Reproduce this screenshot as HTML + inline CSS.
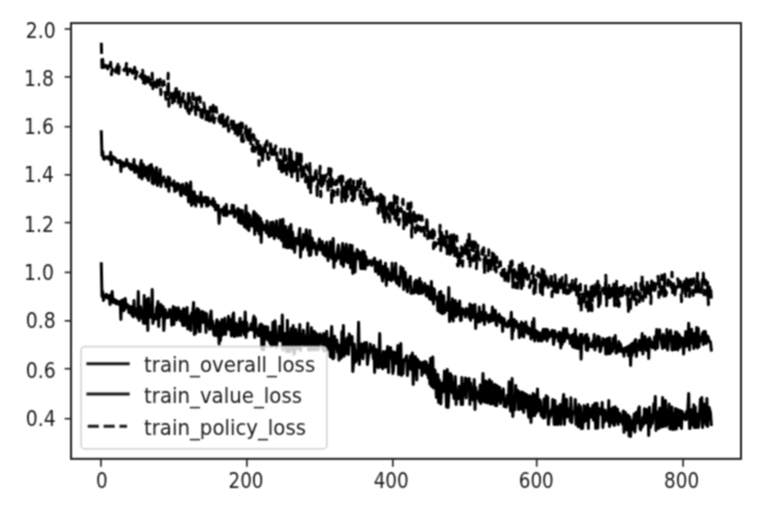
<!DOCTYPE html>
<html lang="en"><head><meta charset="utf-8"><title>train loss</title>
<style>html,body{margin:0;padding:0;background:#fff}svg{display:block}</style></head>
<body>
<svg width="781" height="512" viewBox="0 0 781 512">
<defs><filter id="b" x="0" y="0" width="781" height="512" filterUnits="userSpaceOnUse" color-interpolation-filters="sRGB"><feConvolveMatrix order="3" kernelMatrix="1 2 1 2 4 2 1 2 1" divisor="16" edgeMode="none" preserveAlpha="false"/></filter><clipPath id="c"><rect x="71.05" y="23.1" width="669.95" height="435.75"/></clipPath></defs>
<rect width="781" height="512" fill="#fff"/>
<g filter="url(#b)">
<g clip-path="url(#c)" fill="none" stroke="#000" stroke-width="3.0" stroke-linejoin="round">
<path d="M101.3 263.8L102.0 296.5L102.7 291.5L103.5 300.5L104.2 297.1L104.9 295.4L105.6 295.0L106.4 294.3L107.1 298.1L107.8 296.1L108.5 295.7L109.3 295.5L110.0 304.5L110.7 296.5L111.4 295.3L112.2 291.5L112.9 302.5L113.6 300.4L114.4 299.3L115.1 301.0L115.8 303.7L116.5 300.5L117.3 301.7L118.0 304.2L118.7 301.7L119.4 303.2L120.2 301.5L120.9 319.5L121.6 300.5L122.4 301.6L123.1 299.7L123.8 310.7L124.5 309.1L125.3 298.5L126.0 308.0L126.7 304.1L127.4 306.9L128.2 305.2L128.9 312.7L129.6 312.3L130.4 307.1L131.1 306.5L131.8 315.2L132.5 314.0L133.3 316.9L134.0 300.5L134.7 315.2L135.4 313.0L136.2 309.1L136.9 315.4L137.6 317.7L138.3 291.5L139.1 320.5L139.8 309.9L140.5 306.6L141.3 318.0L142.0 309.9L142.7 313.5L143.4 323.2L144.2 295.5L144.9 323.5L145.6 313.5L146.3 308.7L147.1 299.5L147.8 330.5L148.5 298.2L149.3 316.4L150.0 314.2L150.7 317.3L151.4 317.0L152.2 289.5L152.9 323.5L153.6 320.0L154.3 314.9L155.1 314.9L155.8 318.9L156.5 307.5L157.3 307.0L158.0 301.5L158.7 326.5L159.4 307.2L160.2 317.1L160.9 304.4L161.6 314.3L162.3 315.0L163.1 306.5L163.8 330.5L164.5 318.4L165.3 309.4L166.0 317.9L166.7 316.5L167.4 313.0L168.2 317.5L168.9 315.3L169.6 309.5L170.3 315.5L171.1 310.9L171.8 325.2L172.5 313.2L173.2 306.5L174.0 324.5L174.7 312.8L175.4 307.8L176.2 318.8L176.9 320.0L177.6 317.6L178.3 307.8L179.1 311.8L179.8 310.8L180.5 320.8L181.2 311.5L182.0 318.9L182.7 325.4L183.4 308.8L184.2 308.9L184.9 325.5L185.6 317.1L186.3 319.3L187.1 307.5L187.8 329.1L188.5 316.0L189.2 323.2L190.0 323.9L190.7 330.4L191.4 313.6L192.2 316.5L192.9 311.3L193.6 302.5L194.3 334.5L195.1 311.2L195.8 333.3L196.5 315.0L197.2 308.6L198.0 327.7L198.7 309.5L199.4 331.5L200.1 331.7L200.9 312.1L201.6 322.4L202.3 311.4L203.1 311.9L203.8 322.4L204.5 313.2L205.2 313.0L206.0 332.5L206.7 314.0L207.4 323.8L208.1 325.1L208.9 320.8L209.6 329.4L210.3 317.3L211.1 311.0L211.8 328.5L212.5 321.0L213.2 329.7L214.0 335.0L214.7 335.4L215.4 328.5L216.1 324.0L216.9 319.8L217.6 336.1L218.3 321.5L219.1 343.9L219.8 324.2L220.5 340.5L221.2 323.5L222.0 319.6L222.7 334.9L223.4 326.1L224.1 323.4L224.9 318.2L225.6 334.5L226.3 328.1L227.0 327.1L227.8 329.0L228.5 316.3L229.2 329.1L230.0 329.8L230.7 319.5L231.4 336.0L232.1 325.1L232.9 315.2L233.6 313.0L234.3 336.5L235.0 336.3L235.8 323.2L236.5 328.1L237.2 325.5L238.0 335.8L238.7 325.0L239.4 322.1L240.1 318.2L240.9 335.5L241.6 322.2L242.3 331.6L243.0 330.5L243.8 321.6L244.5 334.7L245.2 312.0L246.0 337.5L246.7 322.4L247.4 329.2L248.1 331.0L248.9 329.0L249.6 329.3L250.3 329.4L251.0 324.1L251.8 329.9L252.5 329.9L253.2 319.5L254.0 316.1L254.7 337.5L255.4 318.5L256.1 332.8L256.9 328.4L257.6 330.9L258.3 335.7L259.0 332.3L259.8 325.1L260.5 336.2L261.2 324.1L261.9 349.1L262.7 325.5L263.4 350.0L264.1 342.4L264.9 331.0L265.6 326.6L266.3 339.0L267.0 331.1L267.8 327.0L268.5 340.4L269.2 334.8L269.9 343.3L270.7 332.6L271.4 346.2L272.1 345.9L272.9 322.5L273.6 345.5L274.3 322.2L275.0 320.8L275.8 330.8L276.5 347.2L277.2 340.9L277.9 337.9L278.7 339.7L279.4 326.3L280.1 340.8L280.9 328.2L281.6 341.0L282.3 315.1L283.0 350.0L283.8 334.7L284.5 333.4L285.2 333.6L285.9 343.3L286.7 351.7L287.4 320.2L288.1 346.4L288.8 332.4L289.6 351.7L290.3 345.1L291.0 328.6L291.8 339.2L292.5 349.7L293.2 325.5L293.9 354.1L294.7 352.2L295.4 329.7L296.1 329.6L296.8 341.2L297.6 348.7L298.3 344.1L299.0 339.5L299.8 324.5L300.5 350.5L301.2 342.5L301.9 341.7L302.7 337.9L303.4 330.2L304.1 345.3L304.8 340.7L305.6 345.4L306.3 336.9L307.0 334.2L307.8 323.3L308.5 350.0L309.2 344.9L309.9 344.8L310.7 350.0L311.4 327.7L312.1 336.8L312.8 337.0L313.6 350.0L314.3 331.2L315.0 349.7L315.7 333.0L316.5 333.9L317.2 334.5L317.9 350.0L318.7 346.2L319.4 344.8L320.1 334.1L320.8 335.7L321.6 342.0L322.3 338.2L323.0 349.5L323.7 333.5L324.5 351.1L325.2 337.8L325.9 342.3L326.7 331.2L327.4 349.4L328.1 343.1L328.8 349.3L329.6 338.5L330.3 356.7L331.0 337.7L331.7 326.5L332.5 358.2L333.2 358.6L333.9 357.6L334.7 336.3L335.4 348.5L336.1 340.0L336.8 339.9L337.6 352.5L338.3 344.5L339.0 360.3L339.7 345.6L340.5 357.9L341.2 358.1L341.9 331.7L342.7 343.7L343.4 325.5L344.1 356.2L344.8 349.0L345.6 353.8L346.3 346.2L347.0 337.9L347.7 345.6L348.5 354.4L349.2 333.9L349.9 337.3L350.6 338.3L351.4 345.0L352.1 336.5L352.8 371.5L353.6 362.7L354.3 344.0L355.0 357.8L355.7 362.0L356.5 359.8L357.2 351.0L357.9 349.0L358.6 322.3L359.4 364.5L360.1 349.9L360.8 347.4L361.6 343.9L362.3 356.2L363.0 358.8L363.7 343.9L364.5 342.9L365.2 351.9L365.9 351.1L366.6 342.5L367.4 364.5L368.1 359.3L368.8 352.7L369.6 353.1L370.3 343.9L371.0 350.8L371.7 350.6L372.5 348.4L373.2 358.3L373.9 345.5L374.6 372.5L375.4 355.4L376.1 349.2L376.8 361.1L377.5 366.4L378.3 367.8L379.0 354.6L379.7 333.5L380.5 366.5L381.2 354.2L381.9 367.1L382.6 368.8L383.4 351.5L384.1 365.7L384.8 355.6L385.5 367.3L386.3 351.0L387.0 356.0L387.7 346.5L388.5 372.5L389.2 356.3L389.9 357.8L390.6 347.4L391.4 358.4L392.1 351.5L392.8 373.5L393.5 369.4L394.3 352.0L395.0 355.9L395.7 363.4L396.5 353.6L397.2 355.1L397.9 345.5L398.6 374.5L399.4 366.6L400.1 370.2L400.8 343.5L401.5 375.5L402.3 365.6L403.0 373.8L403.7 360.0L404.4 360.8L405.2 358.4L405.9 358.6L406.6 355.8L407.4 375.6L408.1 368.3L408.8 360.9L409.5 364.0L410.3 356.1L411.0 369.5L411.7 361.4L412.4 353.0L413.2 384.5L413.9 363.7L414.6 363.3L415.4 356.5L416.1 363.8L416.8 379.9L417.5 359.2L418.3 361.7L419.0 367.5L419.7 361.9L420.4 362.8L421.2 363.5L421.9 375.5L422.6 362.6L423.4 364.1L424.1 372.6L424.8 361.5L425.5 362.6L426.3 362.0L427.0 374.4L427.7 364.8L428.4 377.9L429.2 365.8L429.9 384.1L430.6 358.4L431.4 386.3L432.1 361.6L432.8 357.1L433.5 388.0L434.3 374.6L435.0 370.0L435.7 379.5L436.4 397.4L437.2 389.9L437.9 374.5L438.6 402.5L439.3 380.0L440.1 392.3L440.8 404.0L441.5 391.0L442.3 383.1L443.0 391.9L443.7 391.5L444.4 371.1L445.2 385.2L445.9 389.7L446.6 407.1L447.3 369.5L448.1 407.5L448.8 396.3L449.5 390.7L450.3 373.6L451.0 387.5L451.7 375.4L452.4 392.9L453.2 383.8L453.9 398.5L454.6 388.6L455.3 376.5L456.1 404.5L456.8 390.5L457.5 393.3L458.3 398.6L459.0 386.2L459.7 386.4L460.4 392.7L461.2 404.5L461.9 377.5L462.6 404.5L463.3 385.5L464.1 384.2L464.8 395.0L465.5 378.0L466.2 398.0L467.0 379.2L467.7 389.6L468.4 388.5L469.2 378.5L469.9 404.5L470.6 383.0L471.3 396.4L472.1 390.2L472.8 400.0L473.5 394.9L474.2 379.5L475.0 409.5L475.7 387.6L476.4 398.4L477.2 396.1L477.9 392.2L478.6 393.6L479.3 401.4L480.1 385.0L480.8 403.5L481.5 392.4L482.2 397.1L483.0 373.5L483.7 401.5L484.4 401.6L485.2 402.2L485.9 381.0L486.6 381.9L487.3 403.0L488.1 387.4L488.8 393.7L489.5 379.7L490.2 404.0L491.0 393.6L491.7 381.7L492.4 404.0L493.1 390.6L493.9 388.4L494.6 384.5L495.3 405.5L496.1 385.3L496.8 405.8L497.5 386.0L498.2 401.0L499.0 387.9L499.7 387.3L500.4 403.5L501.1 398.6L501.9 399.2L502.6 391.3L503.3 388.9L504.1 406.5L504.8 400.3L505.5 400.8L506.2 407.0L507.0 395.4L507.7 401.1L508.4 403.8L509.1 381.8L509.9 404.3L510.6 411.1L511.3 403.5L512.1 378.5L512.8 416.5L513.5 403.5L514.2 406.2L515.0 409.8L515.7 385.4L516.4 397.6L517.1 393.9L517.9 390.4L518.6 409.7L519.3 391.8L520.1 402.8L520.8 405.1L521.5 409.3L522.2 392.0L523.0 393.0L523.7 412.5L524.4 393.6L525.1 393.9L525.9 407.3L526.6 394.5L527.3 407.6L528.0 410.5L528.8 417.3L529.5 395.7L530.2 396.1L531.0 422.5L531.7 406.5L532.4 405.8L533.1 393.5L533.9 415.6L534.6 415.7L535.3 394.8L536.0 413.3L536.8 410.1L537.5 388.9L538.2 410.5L539.0 410.9L539.7 399.7L540.4 401.5L541.1 415.2L541.9 416.2L542.6 410.1L543.3 418.1L544.0 399.0L544.8 417.6L545.5 404.6L546.2 395.7L547.0 404.5L547.7 397.1L548.4 424.5L549.1 417.5L549.9 417.1L550.6 415.4L551.3 409.8L552.0 413.2L552.8 399.4L553.5 411.8L554.2 424.5L554.9 400.5L555.7 424.5L556.4 412.1L557.1 406.5L557.9 424.5L558.6 407.7L559.3 410.3L560.0 404.5L560.8 424.5L561.5 412.4L562.2 414.6L562.9 401.3L563.7 394.5L564.4 424.5L565.1 412.6L565.9 409.6L566.6 399.3L567.3 416.9L568.0 412.0L568.8 408.9L569.5 410.2L570.2 421.3L570.9 397.7L571.7 422.7L572.4 413.1L573.1 414.1L573.9 411.5L574.6 412.3L575.3 399.5L576.0 424.5L576.8 420.9L577.5 407.3L578.2 426.8L578.9 404.5L579.7 422.3L580.4 406.5L581.1 428.5L581.9 413.9L582.6 428.5L583.3 419.7L584.0 405.6L584.8 421.4L585.5 407.0L586.2 420.5L586.9 414.5L587.7 404.5L588.4 428.5L589.1 407.9L589.8 408.7L590.6 417.3L591.3 414.3L592.0 413.3L592.8 405.5L593.5 420.2L594.2 408.1L594.9 403.5L595.7 428.5L596.4 403.3L597.1 403.5L597.8 428.1L598.6 410.8L599.3 408.6L600.0 409.4L600.8 413.6L601.5 414.8L602.2 402.5L602.9 427.5L603.7 414.0L604.4 421.9L605.1 409.9L605.8 419.8L606.6 415.1L607.3 412.2L608.0 421.4L608.8 400.5L609.5 426.5L610.2 419.9L610.9 409.1L611.7 422.7L612.4 412.7L613.1 407.4L613.8 425.3L614.6 425.2L615.3 406.8L616.0 421.6L616.7 419.0L617.5 408.9L618.2 424.5L618.9 416.3L619.7 413.2L620.4 421.5L621.1 419.8L621.8 415.9L622.6 424.1L623.3 411.0L624.0 432.5L624.7 412.1L625.5 412.8L626.2 428.3L626.9 429.9L627.7 414.9L628.4 415.6L629.1 435.9L629.8 417.1L630.6 436.5L631.3 420.4L632.0 429.9L632.7 429.2L633.5 421.2L634.2 413.9L634.9 432.1L635.7 421.8L636.4 412.2L637.1 413.3L637.8 422.9L638.6 408.5L639.3 406.9L640.0 428.5L640.7 429.9L641.5 422.8L642.2 427.0L642.9 417.1L643.6 424.5L644.4 408.8L645.1 415.8L645.8 422.9L646.6 409.5L647.3 411.9L648.0 410.0L648.7 435.5L649.5 407.3L650.2 427.6L650.9 425.6L651.6 414.9L652.4 423.3L653.1 414.8L653.8 403.7L654.6 410.3L655.3 396.5L656.0 430.5L656.7 411.4L657.5 423.9L658.2 415.6L658.9 428.5L659.6 408.1L660.4 426.8L661.1 417.4L661.8 426.9L662.6 397.5L663.3 426.5L664.0 419.0L664.7 425.8L665.5 400.4L666.2 426.2L666.9 413.0L667.6 423.9L668.4 416.4L669.1 404.0L669.8 428.8L670.6 429.0L671.3 416.4L672.0 406.9L672.7 429.5L673.5 429.3L674.2 413.2L674.9 429.2L675.6 408.6L676.4 429.0L677.1 418.8L677.8 409.6L678.5 415.4L679.3 425.7L680.0 410.5L680.7 411.0L681.5 428.5L682.2 411.5L682.9 417.8L683.6 413.9L684.4 419.0L685.1 417.8L685.8 419.8L686.5 411.4L687.3 418.8L688.0 406.2L688.7 393.5L689.5 428.5L690.2 428.3L690.9 409.4L691.6 419.9L692.4 410.0L693.1 425.2L693.8 404.7L694.5 427.6L695.3 406.9L696.0 427.5L696.7 420.2L697.5 414.0L698.2 427.5L698.9 424.8L699.6 412.8L700.4 399.3L701.1 418.5L701.8 397.5L702.5 427.5L703.3 418.6L704.0 403.9L704.7 421.8L705.4 409.5L706.2 424.9L706.9 398.5L707.6 426.5L708.4 411.8L709.1 407.6L709.8 410.4L710.5 413.0L711.3 424.5" stroke-linecap="square"/>
<path d="M101.3 131.8L102.0 155.5L102.7 151.5L103.5 158.5L104.2 159.4L104.9 157.1L105.6 157.6L106.4 158.1L107.1 156.7L107.8 156.8L108.5 159.0L109.3 157.2L110.0 159.9L110.7 152.3L111.4 164.5L112.2 158.8L112.9 156.7L113.6 158.2L114.4 159.1L115.1 157.8L115.8 161.0L116.5 160.6L117.3 162.4L118.0 160.6L118.7 161.9L119.4 162.8L120.2 160.5L120.9 171.5L121.6 164.0L122.4 162.2L123.1 166.0L123.8 162.9L124.5 166.4L125.3 164.0L126.0 164.5L126.7 159.5L127.4 165.5L128.2 163.5L128.9 165.9L129.6 168.1L130.4 164.0L131.1 169.6L131.8 168.5L132.5 165.1L133.3 169.2L134.0 159.5L134.7 172.5L135.4 171.1L136.2 166.0L136.9 166.3L137.6 172.4L138.3 169.2L139.1 177.2L139.8 169.8L140.5 164.1L141.3 160.5L142.0 179.0L142.7 170.2L143.4 164.5L144.2 176.0L144.9 174.4L145.6 168.8L146.3 167.1L147.1 178.1L147.8 169.2L148.5 180.5L149.3 165.8L150.0 172.6L150.7 170.3L151.4 164.5L152.2 183.1L152.9 168.3L153.6 183.9L154.3 182.6L155.1 170.8L155.8 181.2L156.5 167.5L157.3 185.4L158.0 181.9L158.7 174.7L159.4 176.2L160.2 169.5L160.9 186.5L161.6 180.6L162.3 182.0L163.1 178.2L163.8 176.9L164.5 180.8L165.3 180.0L166.0 186.7L166.7 183.0L167.4 184.8L168.2 176.9L168.9 191.3L169.6 178.0L170.3 184.3L171.1 183.5L171.8 183.4L172.5 185.5L173.2 184.7L174.0 181.0L174.7 191.5L175.4 189.9L176.2 184.3L176.9 190.3L177.6 183.5L178.3 184.0L179.1 187.8L179.8 185.1L180.5 194.5L181.2 195.8L182.0 188.1L182.7 184.3L183.4 192.9L184.2 187.9L184.9 188.4L185.6 194.6L186.3 183.2L187.1 184.3L187.8 186.3L188.5 201.9L189.2 194.0L190.0 191.3L190.7 182.0L191.4 205.5L192.2 191.8L192.9 201.1L193.6 203.6L194.3 191.7L195.1 199.6L195.8 206.0L196.5 199.3L197.2 196.2L198.0 200.5L198.7 199.0L199.4 202.3L200.1 200.5L200.9 192.3L201.6 206.5L202.3 197.8L203.1 200.0L203.8 201.9L204.5 197.5L205.2 201.4L206.0 197.3L206.7 206.1L207.4 206.0L208.1 197.8L208.9 204.9L209.6 201.8L210.3 202.2L211.1 201.4L211.8 203.2L212.5 205.1L213.2 198.5L214.0 206.5L214.7 201.6L215.4 210.0L216.1 205.9L216.9 205.0L217.6 209.9L218.3 205.5L219.1 223.5L219.8 212.8L220.5 209.9L221.2 211.8L222.0 209.4L222.7 209.1L223.4 215.0L224.1 207.1L224.9 215.6L225.6 212.0L226.3 204.5L227.0 215.5L227.8 211.1L228.5 211.7L229.2 211.6L230.0 213.2L230.7 213.3L231.4 213.1L232.1 205.3L232.9 205.4L233.6 205.5L234.3 217.0L235.0 216.8L235.8 210.8L236.5 212.1L237.2 214.2L238.0 208.6L238.7 222.2L239.4 213.3L240.1 210.0L240.9 223.5L241.6 215.1L242.3 210.6L243.0 223.3L243.8 221.1L244.5 226.7L245.2 223.0L246.0 205.5L246.7 228.5L247.4 215.2L248.1 213.3L248.9 230.6L249.6 215.3L250.3 221.8L251.0 220.9L251.8 226.0L252.5 226.0L253.2 215.0L254.0 211.5L254.7 234.5L255.4 219.7L256.1 213.7L256.9 230.3L257.6 223.6L258.3 215.9L259.0 234.0L259.8 225.7L260.5 218.2L261.2 242.5L261.9 221.9L262.7 226.4L263.4 224.9L264.1 229.7L264.9 230.0L265.6 225.2L266.3 232.8L267.0 220.9L267.8 230.4L268.5 234.7L269.2 236.7L269.9 235.7L270.7 222.5L271.4 235.5L272.1 223.8L272.9 222.0L273.6 231.2L274.3 238.7L275.0 231.9L275.8 227.2L276.5 221.1L277.2 236.1L277.9 229.6L278.7 238.1L279.4 234.8L280.1 220.0L280.9 236.2L281.6 240.5L282.3 229.4L283.0 219.2L283.8 247.0L284.5 226.2L285.2 228.0L285.9 226.6L286.7 247.7L287.4 244.2L288.1 230.3L288.8 247.8L289.6 226.6L290.3 234.0L291.0 224.5L291.8 248.5L292.5 231.9L293.2 237.5L293.9 243.7L294.7 252.3L295.4 242.8L296.1 238.3L296.8 241.6L297.6 238.5L298.3 244.2L299.0 233.8L299.8 228.5L300.5 257.2L301.2 243.9L301.9 245.3L302.7 249.2L303.4 234.5L304.1 246.8L304.8 243.9L305.6 235.8L306.3 229.8L307.0 240.5L307.8 250.0L308.5 239.6L309.2 255.4L309.9 230.5L310.7 255.2L311.4 248.0L312.1 237.9L312.8 244.4L313.6 247.9L314.3 247.8L315.0 243.1L315.7 249.0L316.5 254.6L317.2 249.3L317.9 247.0L318.7 243.5L319.4 239.1L320.1 250.0L320.8 244.7L321.6 248.0L322.3 241.5L323.0 254.1L323.7 245.6L324.5 254.9L325.2 256.0L325.9 244.7L326.7 242.2L327.4 254.5L328.1 260.7L328.8 253.4L329.6 255.6L330.3 241.8L331.0 250.6L331.7 258.4L332.5 256.1L333.2 238.5L333.9 267.5L334.7 254.5L335.4 259.1L336.1 260.7L336.8 254.6L337.6 249.5L338.3 245.0L339.0 258.3L339.7 253.5L340.5 254.3L341.2 264.1L341.9 249.3L342.7 243.5L343.4 266.5L344.1 254.0L344.8 261.3L345.6 248.8L346.3 244.3L347.0 254.6L347.7 262.8L348.5 251.3L349.2 255.8L349.9 245.1L350.6 267.7L351.4 245.4L352.1 245.5L352.8 273.5L353.6 253.1L354.3 257.5L355.0 272.1L355.7 257.4L356.5 254.1L357.2 249.6L357.9 258.8L358.6 251.5L359.4 257.1L360.1 261.1L360.8 268.5L361.6 252.4L362.3 268.8L363.0 251.0L363.7 268.5L364.5 251.9L365.2 269.0L365.9 256.6L366.6 261.5L367.4 260.5L368.1 265.1L368.8 263.1L369.6 262.2L370.3 260.6L371.0 262.0L371.7 265.4L372.5 262.2L373.2 262.2L373.9 258.9L374.6 258.2L375.4 271.5L376.1 266.9L376.8 269.6L377.5 262.1L378.3 274.2L379.0 267.5L379.7 269.8L380.5 260.8L381.2 274.9L381.9 276.9L382.6 281.1L383.4 266.5L384.1 272.5L384.8 276.9L385.5 263.3L386.3 285.5L387.0 276.5L387.7 268.9L388.5 274.5L389.2 279.6L389.9 276.3L390.6 273.0L391.4 280.8L392.1 263.3L392.8 278.7L393.5 269.1L394.3 272.6L395.0 280.2L395.7 263.3L396.5 282.5L397.2 283.7L397.9 277.1L398.6 276.9L399.4 285.9L400.1 280.7L400.8 266.7L401.5 276.3L402.3 274.4L403.0 268.2L403.7 289.5L404.4 276.0L405.2 272.1L405.9 286.7L406.6 282.3L407.4 291.8L408.1 280.1L408.8 284.9L409.5 280.1L410.3 276.5L411.0 293.5L411.7 290.7L412.4 291.1L413.2 293.2L413.9 289.6L414.6 282.1L415.4 292.3L416.1 280.3L416.8 283.7L417.5 285.4L418.3 293.5L419.0 281.3L419.7 278.5L420.4 293.5L421.2 282.0L421.9 288.9L422.6 292.9L423.4 289.7L424.1 290.5L424.8 283.6L425.5 287.3L426.3 295.9L427.0 288.8L427.7 286.2L428.4 288.5L429.2 297.9L429.9 299.1L430.6 291.9L431.4 281.5L432.1 300.0L432.8 288.2L433.5 304.0L434.3 288.9L435.0 297.4L435.7 299.3L436.4 297.0L437.2 297.1L437.9 310.8L438.6 300.6L439.3 292.5L440.1 312.5L440.8 291.6L441.5 299.2L442.3 313.8L443.0 300.1L443.7 295.8L444.4 313.0L445.2 307.4L445.9 305.2L446.6 310.6L447.3 302.3L448.1 308.9L448.8 287.5L449.5 321.5L450.3 312.5L451.0 302.7L451.7 318.8L452.4 298.7L453.2 321.1L453.9 307.0L454.6 312.2L455.3 300.4L456.1 316.5L456.8 303.4L457.5 314.5L458.3 310.0L459.0 305.8L459.7 301.0L460.4 320.5L461.2 320.5L461.9 310.9L462.6 308.7L463.3 310.1L464.1 314.0L464.8 312.1L465.5 317.1L466.2 308.5L467.0 314.3L467.7 309.7L468.4 309.4L469.2 317.9L469.9 304.0L470.6 320.5L471.3 308.8L472.1 305.2L472.8 317.5L473.5 309.6L474.2 316.2L475.0 304.5L475.7 328.5L476.4 315.9L477.2 315.6L477.9 313.7L478.6 322.1L479.3 307.0L480.1 321.7L480.8 312.4L481.5 316.6L482.2 312.0L483.0 320.4L483.7 305.1L484.4 324.5L485.2 318.6L485.9 312.7L486.6 317.0L487.3 319.3L488.1 315.4L488.8 322.2L489.5 318.5L490.2 314.8L491.0 321.2L491.7 318.7L492.4 307.1L493.1 320.5L493.9 315.7L494.6 317.5L495.3 310.2L496.1 324.6L496.8 325.5L497.5 318.7L498.2 316.1L499.0 314.2L499.7 315.5L500.4 322.6L501.1 318.1L501.9 317.5L502.6 331.5L503.3 322.3L504.1 318.8L504.8 323.8L505.5 323.2L506.2 326.2L507.0 325.7L507.7 326.9L508.4 321.2L509.1 325.7L509.9 319.9L510.6 325.6L511.3 312.3L512.1 339.0L512.8 327.8L513.5 330.7L514.2 319.6L515.0 323.7L515.7 325.8L516.4 321.4L517.1 327.8L517.9 327.5L518.6 324.4L519.3 337.6L520.1 324.6L520.8 331.1L521.5 322.1L522.2 336.0L523.0 323.5L523.7 337.0L524.4 331.7L525.1 330.8L525.9 322.1L526.6 331.9L527.3 326.4L528.0 333.8L528.8 330.4L529.5 328.4L530.2 329.3L531.0 339.0L531.7 337.0L532.4 322.1L533.1 331.6L533.9 318.5L534.6 341.0L535.3 336.3L536.0 330.6L536.8 335.2L537.5 331.7L538.2 341.0L539.0 336.0L539.7 332.9L540.4 340.5L541.1 336.2L541.9 341.0L542.6 331.9L543.3 329.4L544.0 338.9L544.8 334.8L545.5 329.2L546.2 329.5L547.0 341.0L547.7 329.7L548.4 338.0L549.1 335.5L549.9 332.7L550.6 334.4L551.3 336.3L552.0 330.5L552.8 330.5L553.5 344.5L554.2 340.8L554.9 331.1L555.7 337.4L556.4 336.4L557.1 334.6L557.9 333.8L558.6 341.2L559.3 332.3L560.0 332.5L560.8 348.0L561.5 338.1L562.2 344.4L562.9 333.7L563.7 328.5L564.4 341.5L565.1 331.5L565.9 338.3L566.6 328.7L567.3 338.1L568.0 334.1L568.8 336.6L569.5 336.0L570.2 343.6L570.9 339.7L571.7 335.2L572.4 346.5L573.1 334.5L573.9 347.3L574.6 336.9L575.3 329.5L576.0 348.0L576.8 336.7L577.5 339.8L578.2 348.6L578.9 341.4L579.7 342.1L580.4 334.5L581.1 359.3L581.9 334.5L582.6 343.6L583.3 340.9L584.0 341.0L584.8 339.0L585.5 335.4L586.2 349.9L586.9 334.5L587.7 350.5L588.4 338.0L589.1 346.9L589.8 345.6L590.6 343.8L591.3 344.1L592.0 347.0L592.8 341.3L593.5 343.8L594.2 334.5L594.9 350.0L595.7 345.9L596.4 344.9L597.1 342.2L597.8 336.2L598.6 346.2L599.3 337.0L600.0 351.8L600.8 350.1L601.5 344.8L602.2 345.7L602.9 338.6L603.7 345.1L604.4 340.1L605.1 339.5L605.8 354.1L606.6 353.9L607.3 338.6L608.0 353.8L608.8 342.6L609.5 337.7L610.2 353.6L610.9 343.3L611.7 348.3L612.4 351.2L613.1 338.3L613.8 345.6L614.6 347.6L615.3 335.5L616.0 353.1L616.7 353.1L617.5 345.5L618.2 350.4L618.9 341.6L619.7 351.4L620.4 343.9L621.1 346.8L621.8 348.5L622.6 352.3L623.3 348.9L624.0 356.2L624.7 348.3L625.5 350.8L626.2 347.5L626.9 351.6L627.7 346.7L628.4 355.7L629.1 346.0L629.8 345.5L630.6 365.5L631.3 344.2L632.0 355.5L632.7 343.2L633.5 352.3L634.2 351.2L634.9 340.6L635.7 339.5L636.4 356.5L637.1 346.7L637.8 345.9L638.6 347.9L639.3 340.4L640.0 350.3L640.7 348.9L641.5 342.3L642.2 333.5L642.9 354.1L643.6 347.2L644.4 347.7L645.1 336.6L645.8 346.7L646.6 350.5L647.3 348.5L648.0 339.5L648.7 358.5L649.5 337.8L650.2 339.3L650.9 343.8L651.6 345.5L652.4 347.7L653.1 342.2L653.8 347.5L654.6 336.9L655.3 349.4L656.0 338.5L656.7 329.5L657.5 348.0L658.2 335.1L658.9 338.6L659.6 329.7L660.4 338.0L661.1 339.7L661.8 344.9L662.6 348.4L663.3 334.5L664.0 337.3L664.7 346.6L665.5 347.5L666.2 345.5L666.9 329.5L667.6 350.0L668.4 342.8L669.1 332.5L669.8 338.3L670.6 330.6L671.3 337.2L672.0 350.0L672.7 350.0L673.5 336.6L674.2 345.3L674.9 349.6L675.6 332.1L676.4 332.3L677.1 332.5L677.8 350.0L678.5 334.5L679.3 334.8L680.0 347.5L680.7 337.8L681.5 337.6L682.2 340.4L682.9 338.5L683.6 354.1L684.4 343.7L685.1 339.2L685.8 331.4L686.5 346.3L687.3 335.5L688.0 343.2L688.7 323.3L689.5 350.0L690.2 335.7L690.9 341.4L691.6 329.3L692.4 343.2L693.1 338.0L693.8 348.6L694.5 333.6L695.3 335.3L696.0 346.3L696.7 327.5L697.5 348.0L698.2 328.3L698.9 346.8L699.6 338.3L700.4 336.7L701.1 340.9L701.8 337.4L702.5 333.1L703.3 344.6L704.0 331.6L704.7 341.1L705.4 331.5L706.2 343.5L706.9 337.7L707.6 336.1L708.4 337.7L709.1 341.7L709.8 341.0L710.5 342.5L711.3 350.0" stroke-linecap="square"/>
<path d="M101.3 42.8L102.0 67.7L102.7 59.3L103.5 70.7L104.2 68.1L104.9 65.9L105.6 65.3L106.4 67.3L107.1 68.0L107.8 68.9L108.5 65.7L109.3 66.2L110.0 69.1L110.7 62.3L111.4 74.7L112.2 68.8L112.9 70.3L113.6 69.3L114.4 67.9L115.1 67.9L115.8 72.3L116.5 67.4L117.3 67.4L118.0 64.3L118.7 73.7L119.4 67.0L120.2 69.1L120.9 69.0L121.6 68.4L122.4 69.0L123.1 69.4L123.8 70.0L124.5 70.6L125.3 69.4L126.0 67.0L126.7 62.3L127.4 74.7L128.2 70.9L128.9 68.3L129.6 70.7L130.4 69.0L131.1 71.6L131.8 70.5L132.5 72.4L133.3 76.7L134.0 71.8L134.7 67.3L135.4 78.7L136.2 75.0L136.9 71.7L137.6 74.3L138.3 76.1L139.1 74.9L139.8 76.5L140.5 76.2L141.3 74.3L142.0 78.6L142.7 70.3L143.4 84.7L144.2 75.8L144.9 83.6L145.6 76.3L146.3 81.1L147.1 78.7L147.8 82.3L148.5 77.3L149.3 83.5L150.0 79.3L150.7 84.9L151.4 82.3L152.2 73.3L152.9 88.7L153.6 82.2L154.3 78.5L155.1 86.0L155.8 84.0L156.5 90.4L157.3 79.9L158.0 86.7L158.7 85.8L159.4 85.1L160.2 79.3L160.9 94.7L161.6 86.7L162.3 87.0L163.1 82.6L163.8 81.1L164.5 86.2L165.3 93.0L166.0 99.3L166.7 95.3L167.4 97.3L168.2 73.3L168.9 106.2L169.6 97.5L170.3 96.5L171.1 93.5L171.8 98.5L172.5 104.2L173.2 90.2L174.0 90.5L174.7 103.3L175.4 95.0L176.2 85.3L176.9 102.7L177.6 103.0L178.3 101.8L179.1 89.1L179.8 106.0L180.5 106.7L181.2 98.3L182.0 104.0L182.7 99.3L183.4 93.5L184.2 100.1L184.9 102.9L185.6 108.1L186.3 105.0L187.1 101.3L187.8 111.5L188.5 90.8L189.2 113.7L190.0 97.6L190.7 109.4L191.4 110.1L192.2 100.8L192.9 93.3L193.6 100.1L194.3 106.8L195.1 108.1L195.8 114.7L196.5 97.8L197.2 107.0L198.0 110.0L198.7 104.9L199.4 97.0L200.1 97.3L200.9 116.7L201.6 112.7L202.3 117.8L203.1 112.6L203.8 103.1L204.5 107.9L205.2 111.3L206.0 119.5L206.7 112.0L207.4 111.4L208.1 120.1L208.9 110.0L209.6 121.1L210.3 107.2L211.1 111.1L211.8 117.5L212.5 120.8L213.2 105.3L214.0 122.7L214.7 118.5L215.4 116.5L216.1 107.2L216.9 114.0L217.6 113.8L218.3 114.8L219.1 121.2L219.8 115.7L220.5 123.1L221.2 118.7L222.0 117.6L222.7 111.3L223.4 128.7L224.1 121.4L224.9 123.4L225.6 125.8L226.3 119.4L227.0 122.2L227.8 117.1L228.5 131.3L229.2 129.7L230.0 123.4L230.7 123.6L231.4 121.1L232.1 127.9L232.9 127.6L233.6 121.3L234.3 133.7L235.0 135.1L235.8 128.4L236.5 125.8L237.2 122.2L238.0 137.8L238.7 130.2L239.4 122.8L240.1 133.6L240.9 123.0L241.6 141.3L242.3 123.3L243.0 141.7L243.8 140.6L244.5 137.0L245.2 133.8L246.0 126.1L246.7 137.7L247.4 127.3L248.1 143.0L248.9 128.2L249.6 135.4L250.3 129.0L251.0 149.7L251.8 149.1L252.5 151.4L253.2 134.5L254.0 135.9L254.7 151.4L255.4 149.9L256.1 140.0L256.9 144.3L257.6 144.6L258.3 139.3L259.0 165.4L259.8 142.2L260.5 146.6L261.2 158.3L261.9 153.3L262.7 162.7L263.4 148.2L264.1 150.5L264.9 144.7L265.6 151.7L266.3 142.7L267.0 141.0L267.8 159.0L268.5 159.4L269.2 157.6L269.9 158.5L270.7 141.3L271.4 158.2L272.1 156.6L272.9 149.6L273.6 157.4L274.3 153.4L275.0 149.1L275.8 145.9L276.5 148.6L277.2 160.3L277.9 160.4L278.7 156.2L279.4 172.2L280.1 160.9L280.9 149.3L281.6 174.7L282.3 166.8L283.0 171.3L283.8 154.3L284.5 149.3L285.2 170.8L285.9 155.6L286.7 174.4L287.4 163.6L288.1 170.9L288.8 167.9L289.6 149.3L290.3 171.8L291.0 149.3L291.8 176.7L292.5 158.2L293.2 158.8L293.9 161.9L294.7 171.9L295.4 171.9L296.1 173.4L296.8 153.3L297.6 182.7L298.3 153.6L299.0 164.6L299.8 154.0L300.5 170.4L301.2 154.3L301.9 179.7L302.7 175.5L303.4 163.1L304.1 174.9L304.8 173.8L305.6 182.0L306.3 164.7L307.0 168.0L307.8 168.9L308.5 190.5L309.2 184.2L309.9 161.8L310.7 192.7L311.4 176.7L312.1 180.5L312.8 179.2L313.6 180.6L314.3 176.8L315.0 176.5L315.7 168.2L316.5 175.6L317.2 195.6L317.9 183.3L318.7 181.1L319.4 179.2L320.1 166.3L320.8 196.7L321.6 182.5L322.3 185.4L323.0 175.7L323.7 185.4L324.5 184.6L325.2 175.5L325.9 176.7L326.7 174.8L327.4 174.7L328.1 193.7L328.8 168.5L329.6 185.3L330.3 178.3L331.0 169.0L331.7 204.3L332.5 179.1L333.2 187.0L333.9 195.8L334.7 184.8L335.4 184.7L336.1 180.6L336.8 185.9L337.6 194.9L338.3 181.9L339.0 177.3L339.7 177.3L340.5 179.0L341.2 173.3L341.9 201.7L342.7 176.2L343.4 199.7L344.1 190.2L344.8 187.0L345.6 201.0L346.3 182.5L347.0 197.3L347.7 195.8L348.5 177.8L349.2 180.6L349.9 185.6L350.6 179.3L351.4 200.2L352.1 198.8L352.8 200.8L353.6 180.9L354.3 201.6L355.0 187.4L355.7 189.4L356.5 187.9L357.2 189.9L357.9 179.3L358.6 186.1L359.4 183.1L360.1 196.9L360.8 179.3L361.6 204.7L362.3 204.7L363.0 204.6L363.7 188.0L364.5 182.1L365.2 192.5L365.9 187.9L366.6 204.5L367.4 196.1L368.1 190.2L368.8 201.3L369.6 197.6L370.3 186.9L371.0 194.6L371.7 188.3L372.5 204.3L373.2 196.4L373.9 198.6L374.6 199.7L375.4 197.6L376.1 201.9L376.8 197.3L377.5 196.7L378.3 213.2L379.0 204.0L379.7 206.8L380.5 193.2L381.2 205.9L381.9 212.0L382.6 196.0L383.4 217.5L384.1 195.3L384.8 223.7L385.5 205.1L386.3 212.1L387.0 206.9L387.7 210.7L388.5 218.4L389.2 204.1L389.9 221.9L390.6 200.5L391.4 202.7L392.1 216.4L392.8 199.3L393.5 208.0L394.3 195.7L395.0 220.7L395.7 218.5L396.5 220.3L397.2 197.0L397.9 218.6L398.6 224.8L399.4 220.6L400.1 209.2L400.8 208.1L401.5 211.4L402.3 203.5L403.0 199.3L403.7 228.7L404.4 212.0L405.2 213.2L405.9 213.6L406.6 225.1L407.4 211.5L408.1 203.4L408.8 225.8L409.5 205.0L410.3 213.5L411.0 202.8L411.7 237.2L412.4 216.6L413.2 216.1L413.9 212.3L414.6 219.7L415.4 232.6L416.1 215.6L416.8 223.4L417.5 230.3L418.3 229.3L419.0 215.3L419.7 228.7L420.4 230.5L421.2 231.4L421.9 216.0L422.6 223.3L423.4 228.6L424.1 230.5L424.8 235.7L425.5 229.6L426.3 226.0L427.0 217.3L427.7 238.7L428.4 230.4L429.2 229.8L429.9 234.3L430.6 237.9L431.4 231.4L432.1 230.3L432.8 227.3L433.5 248.7L434.3 231.2L435.0 246.5L435.7 245.7L436.4 244.0L437.2 243.5L437.9 243.6L438.6 237.8L439.3 243.7L440.1 225.3L440.8 250.7L441.5 232.4L442.3 240.5L443.0 235.8L443.7 248.4L444.4 237.0L445.2 243.1L445.9 246.9L446.6 231.3L447.3 257.4L448.1 256.3L448.8 236.8L449.5 238.7L450.3 254.3L451.0 235.0L451.7 252.5L452.4 240.7L453.2 247.2L453.9 234.8L454.6 257.6L455.3 241.8L456.1 240.4L456.8 236.3L457.5 265.7L458.3 265.9L459.0 253.6L459.7 266.2L460.4 248.7L461.2 246.7L461.9 251.8L462.6 266.3L463.3 247.9L464.1 255.7L464.8 255.4L465.5 241.4L466.2 254.0L467.0 246.1L467.7 240.3L468.4 262.1L469.2 232.3L469.9 267.7L470.6 259.1L471.3 253.1L472.1 245.7L472.8 238.3L473.5 261.1L474.2 253.2L475.0 242.0L475.7 243.3L476.4 268.7L477.2 255.9L477.9 245.2L478.6 258.4L479.3 258.0L480.1 259.9L480.8 258.9L481.5 259.0L482.2 250.1L483.0 257.0L483.7 247.7L484.4 273.7L485.2 255.8L485.9 258.5L486.6 261.9L487.3 264.1L488.1 271.0L488.8 249.7L489.5 266.6L490.2 259.1L491.0 270.9L491.7 265.8L492.4 251.2L493.1 266.9L493.9 251.8L494.6 269.7L495.3 260.4L496.1 271.9L496.8 257.0L497.5 266.5L498.2 265.6L499.0 266.8L499.7 264.1L500.4 261.8L501.1 274.1L501.9 275.9L502.6 269.2L503.3 266.3L504.1 267.3L504.8 282.7L505.5 273.9L506.2 276.5L507.0 271.3L507.7 273.6L508.4 283.7L509.1 264.5L509.9 271.8L510.6 262.1L511.3 271.9L512.1 261.0L512.8 287.2L513.5 270.2L514.2 269.5L515.0 271.8L515.7 287.8L516.4 272.8L517.1 276.1L517.9 288.1L518.6 274.0L519.3 265.1L520.1 281.7L520.8 270.0L521.5 288.6L522.2 263.3L523.0 288.7L523.7 268.9L524.4 275.2L525.1 266.8L525.9 280.8L526.6 270.5L527.3 279.4L528.0 275.8L528.8 274.7L529.5 287.4L530.2 285.7L531.0 279.1L531.7 272.3L532.4 272.0L533.1 266.3L533.9 293.7L534.6 282.5L535.3 294.0L536.0 273.9L536.8 275.3L537.5 275.9L538.2 272.9L539.0 274.5L539.7 280.5L540.4 292.4L541.1 279.7L541.9 269.3L542.6 294.7L543.3 278.0L544.0 270.8L544.8 285.3L545.5 281.6L546.2 274.0L547.0 276.4L547.7 283.4L548.4 289.6L549.1 286.2L549.9 284.1L550.6 281.2L551.3 273.3L552.0 296.7L552.8 285.8L553.5 283.5L554.2 294.7L554.9 275.1L555.7 283.4L556.4 292.3L557.1 281.7L557.9 292.5L558.6 283.1L559.3 286.0L560.0 276.3L560.8 291.2L561.5 283.1L562.2 277.5L562.9 281.0L563.7 292.8L564.4 288.0L565.1 289.9L565.9 275.3L566.6 293.7L567.3 292.9L568.0 289.7L568.8 293.2L569.5 284.8L570.2 286.5L570.9 293.9L571.7 284.8L572.4 280.4L573.1 288.0L573.9 285.1L574.6 292.7L575.3 283.8L576.0 279.3L576.8 298.4L577.5 283.6L578.2 290.2L578.9 303.6L579.7 290.9L580.4 284.3L581.1 311.7L581.9 295.3L582.6 293.9L583.3 296.3L584.0 301.0L584.8 303.9L585.5 284.3L586.2 306.9L586.9 292.0L587.7 291.8L588.4 310.9L589.1 289.8L589.8 309.9L590.6 299.2L591.3 284.3L592.0 310.7L592.8 285.9L593.5 299.1L594.2 299.0L594.9 292.3L595.7 282.3L596.4 294.0L597.1 292.5L597.8 281.3L598.6 306.7L599.3 285.3L600.0 306.4L600.8 289.7L601.5 291.5L602.2 292.0L602.9 288.1L603.7 288.8L604.4 295.5L605.1 296.2L605.8 275.3L606.6 305.7L607.3 290.0L608.0 293.8L608.8 283.1L609.5 299.5L610.2 287.1L610.9 296.4L611.7 286.3L612.4 290.9L613.1 295.8L613.8 284.1L614.6 305.7L615.3 290.3L616.0 293.5L616.7 281.3L617.5 305.7L618.2 287.9L618.9 306.4L619.7 302.0L620.4 294.5L621.1 283.8L621.8 291.3L622.6 298.5L623.3 288.9L624.0 285.6L624.7 286.1L625.5 288.8L626.2 294.3L626.9 288.5L627.7 294.4L628.4 311.4L629.1 288.7L629.8 311.7L630.6 306.7L631.3 286.9L632.0 297.4L632.7 293.5L633.5 292.5L634.2 301.1L634.9 290.0L635.7 283.3L636.4 304.7L637.1 291.2L637.8 291.1L638.6 292.9L639.3 302.0L640.0 297.1L640.7 283.5L641.5 291.5L642.2 275.3L642.9 300.7L643.6 286.6L644.4 298.1L645.1 291.8L645.8 297.1L646.6 289.0L647.3 279.9L648.0 295.0L648.7 290.1L649.5 292.5L650.2 282.3L650.9 303.7L651.6 281.1L652.4 289.9L653.1 282.4L653.8 283.3L654.6 290.5L655.3 289.2L656.0 280.4L656.7 277.5L657.5 277.0L658.2 276.3L658.9 297.4L659.6 282.5L660.4 294.7L661.1 285.0L661.8 275.3L662.6 283.1L663.3 290.0L664.0 296.0L664.7 274.3L665.5 295.7L666.2 294.4L666.9 288.0L667.6 287.8L668.4 279.7L669.1 284.8L669.8 284.8L670.6 281.9L671.3 287.6L672.0 272.3L672.7 294.3L673.5 283.8L674.2 288.7L674.9 294.8L675.6 289.3L676.4 288.0L677.1 283.8L677.8 278.8L678.5 286.1L679.3 288.8L680.0 281.2L680.7 282.3L681.5 301.7L682.2 293.2L682.9 281.3L683.6 287.7L684.4 282.0L685.1 279.7L685.8 298.7L686.5 278.8L687.3 291.8L688.0 279.3L688.7 277.3L689.5 296.7L690.2 286.2L690.9 279.2L691.6 283.1L692.4 291.4L693.1 295.5L693.8 278.7L694.5 287.1L695.3 291.9L696.0 281.8L696.7 291.8L697.5 273.3L698.2 294.3L698.9 282.3L699.6 291.3L700.4 289.0L701.1 294.0L701.8 288.1L702.5 279.7L703.3 273.3L704.0 294.7L704.7 291.0L705.4 280.0L706.2 292.7L706.9 295.3L707.6 282.3L708.4 304.7L709.1 292.1L709.8 286.3L710.5 285.3L711.3 298.7" stroke-dasharray="11.1 4.8"/>
</g>
<rect x="71.05" y="23.1" width="669.95" height="435.75" fill="none" stroke="#1e1e1e" stroke-width="2.0"/>
<g stroke="#1e1e1e" stroke-width="1.6">
<line x1="100.95" y1="458.85" x2="100.95" y2="466.65000000000003"/>
<line x1="246.90" y1="458.85" x2="246.90" y2="466.65000000000003"/>
<line x1="392.80" y1="458.85" x2="392.80" y2="466.65000000000003"/>
<line x1="536.70" y1="458.85" x2="536.70" y2="466.65000000000003"/>
<line x1="683.10" y1="458.85" x2="683.10" y2="466.65000000000003"/>
<line x1="64.65" y1="29.00" x2="71.05" y2="29.00"/>
<line x1="64.65" y1="76.90" x2="71.05" y2="76.90"/>
<line x1="64.65" y1="126.70" x2="71.05" y2="126.70"/>
<line x1="64.65" y1="174.80" x2="71.05" y2="174.80"/>
<line x1="64.65" y1="222.60" x2="71.05" y2="222.60"/>
<line x1="64.65" y1="272.40" x2="71.05" y2="272.40"/>
<line x1="64.65" y1="320.80" x2="71.05" y2="320.80"/>
<line x1="64.65" y1="368.70" x2="71.05" y2="368.70"/>
<line x1="64.65" y1="418.70" x2="71.05" y2="418.70"/>
</g>
<g font-family='"DejaVu Sans", "Liberation Sans", sans-serif' font-size="21" fill="#1a1a1a" lengthAdjust="spacingAndGlyphs">
<text x="96.05" y="487.5" textLength="11.7" lengthAdjust="spacingAndGlyphs">0</text>
<text x="228.45" y="487.5" textLength="35.099999999999994" lengthAdjust="spacingAndGlyphs">200</text>
<text x="373.65" y="487.5" textLength="35.099999999999994" lengthAdjust="spacingAndGlyphs">400</text>
<text x="518.70" y="487.5" textLength="35.099999999999994" lengthAdjust="spacingAndGlyphs">600</text>
<text x="664.10" y="487.5" textLength="35.099999999999994" lengthAdjust="spacingAndGlyphs">800</text>
<text x="25.70" y="38.0" textLength="30" lengthAdjust="spacingAndGlyphs">2.0</text>
<text x="23.90" y="85.8" textLength="30" lengthAdjust="spacingAndGlyphs">1.8</text>
<text x="23.90" y="133.8" textLength="30" lengthAdjust="spacingAndGlyphs">1.6</text>
<text x="23.90" y="182.1" textLength="30" lengthAdjust="spacingAndGlyphs">1.4</text>
<text x="23.90" y="232.1" textLength="30" lengthAdjust="spacingAndGlyphs">1.2</text>
<text x="23.90" y="280.1" textLength="30" lengthAdjust="spacingAndGlyphs">1.0</text>
<text x="25.70" y="327.6" textLength="30" lengthAdjust="spacingAndGlyphs">0.8</text>
<text x="25.70" y="377.8" textLength="30" lengthAdjust="spacingAndGlyphs">0.6</text>
<text x="25.70" y="425.5" textLength="30" lengthAdjust="spacingAndGlyphs">0.4</text>
</g>
<rect x="81.0" y="346.6" width="245.89999999999998" height="102.29999999999995" rx="4" ry="4" fill="#fff" fill-opacity="0.8" stroke="#ccc" stroke-opacity="0.8" stroke-width="1.7"/>
<g stroke="#1c1c1c" stroke-width="3.0" fill="none">
<line x1="87.9" y1="363.8" x2="128.2" y2="363.8" stroke-linecap="square"/>
<line x1="87.9" y1="394.0" x2="128.2" y2="394.0" stroke-linecap="square"/>
<line x1="87.7" y1="426.2" x2="127.0" y2="426.2" stroke-dasharray="11.1 4.8"/>
</g>
<g font-family='"DejaVu Sans", "Liberation Sans", sans-serif' font-size="21" fill="#1a1a1a">
<text x="144.0" y="371.6" textLength="171.2" lengthAdjust="spacingAndGlyphs">train_overall_loss</text>
<text x="144.0" y="403.2" textLength="158" lengthAdjust="spacingAndGlyphs">train_value_loss</text>
<text x="144.0" y="435.0" textLength="162" lengthAdjust="spacingAndGlyphs">train_policy_loss</text>
</g>
</g>
</svg>
</body></html>
